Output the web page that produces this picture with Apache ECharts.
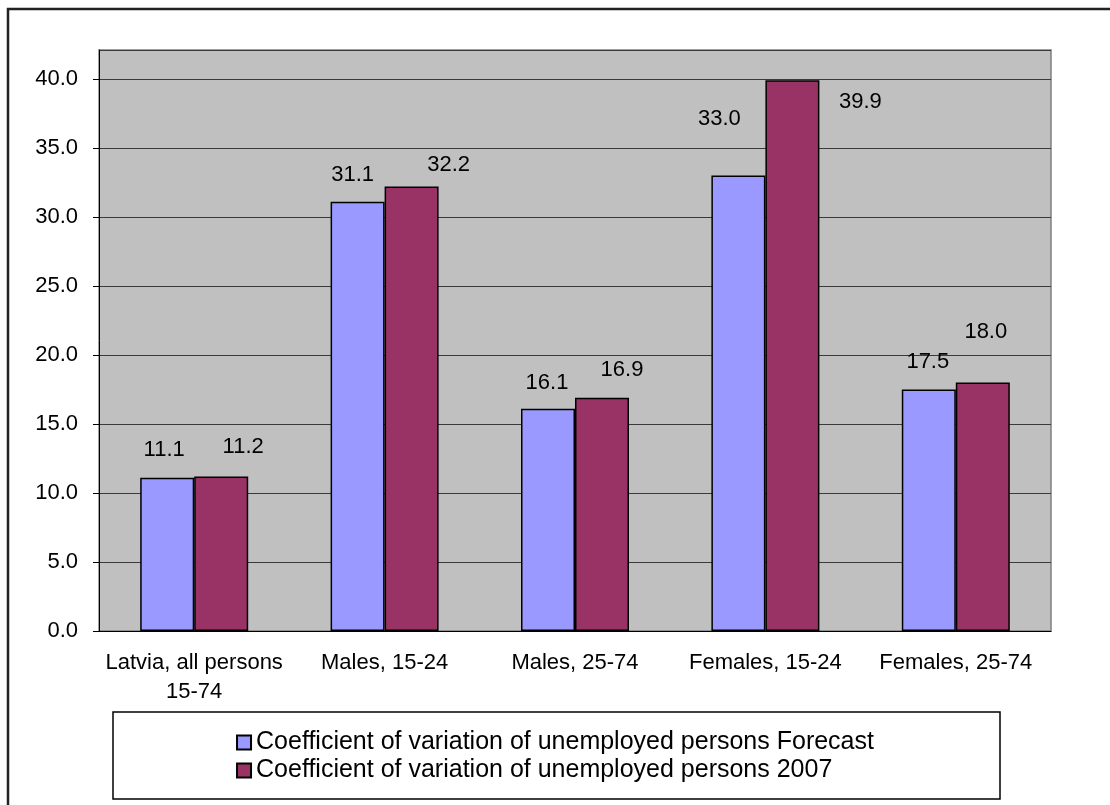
<!DOCTYPE html>
<html>
<head>
<meta charset="utf-8">
<script src="https://cdn.jsdelivr.net/npm/echarts@6/dist/echarts.min.js"></script>
<style>
  html, body { margin: 0; padding: 0; background: #fff; }
  #chart { width: 1110px; height: 805px; }
</style>
</head>
<body>
<div id="chart"></div>
<script>
const categories = ['Latvia, all persons\n15-74', 'Males, 15-24', 'Males, 25-74', 'Females, 15-24', 'Females, 25-74']
const forecastValues = [11.1, 31.1, 16.1, 33.0, 17.5]
const values2007 = [11.2, 32.2, 16.9, 39.9, 18.0]
const seriesNames = [
  'Coefficient of variation of unemployed persons Forecast',
  'Coefficient of variation of unemployed persons 2007'
]

// hand-placed data labels in the original (px offsets from bar top)
const forecastLabelShift = [[-3, -17], [-5, -16], [-1, -15], [-19, -46], [-1, -17]]
const label2007Shift = [[22, -18], [37, -11], [20, -17], [68, 33], [3, -40]]

const font = 'Liberation Sans, Arial, sans-serif'

function withLabels(values, shifts) {
  return values.map((v, i) => ({
    value: v,
    label: { offset: shifts[i] }
  }))
}

const chart = echarts.init(document.getElementById('chart'))

chart.setOption({
  backgroundColor: '#fff',
  animation: false,
  textStyle: { fontFamily: font, color: '#000' },
  graphic: [{
    type: 'rect',
    shape: { x: 8, y: 9, width: 1200, height: 900 },
    style: { fill: 'none', stroke: '#222', lineWidth: 2.5 },
    z: 0
  }, {
    type: 'rect',
    shape: { x: 113, y: 712, width: 887, height: 87 },
    style: { fill: '#fff', stroke: '#000', lineWidth: 1.5 },
    z: 0
  }],
  grid: {
    left: 99,
    top: 50,
    right: 59,
    bottom: 174,
    show: true,
    backgroundColor: '#c0c0c0',
    borderColor: '#808080',
    borderWidth: 1.5
  },
  legend: {
    orient: 'vertical',
    left: 'center',
    top: 725,
    icon: 'rect',
    itemWidth: 14,
    itemHeight: 14,
    itemGap: 3,
    z: 10,
    textStyle: { fontFamily: font, fontSize: 25, color: '#000' },
    data: seriesNames
  },
  xAxis: {
    type: 'category',
    data: categories,
    axisLine: { lineStyle: { color: '#000', width: 1 } },
    axisTick: { length: 6, lineStyle: { color: '#000' } },
    axisLabel: {
      fontFamily: font,
      fontSize: 22,
      color: '#000',
      lineHeight: 29,
      margin: 17,
      interval: 0
    }
  },
  yAxis: {
    type: 'value',
    min: 0,
    max: 42.1,
    interval: 5,
    axisLine: { show: true, lineStyle: { color: '#000', width: 1 } },
    axisTick: { show: true, length: 6, lineStyle: { color: '#000' } },
    splitLine: { lineStyle: { color: '#3a3a3a', width: 1 } },
    axisLabel: {
      fontFamily: font,
      fontSize: 22,
      color: '#000',
      margin: 21,
      showMaxLabel: false,
      formatter: v => (v % 5 === 0 ? v.toFixed(1) : '')
    }
  },
  series: [{
    name: seriesNames[0],
    type: 'bar',
    barWidth: 54,
    barGap: '0%',
    itemStyle: { color: '#9999ff', borderColor: '#000', borderWidth: 1.5 },
    label: {
      show: true,
      position: 'top',
      distance: 0,
      fontFamily: font,
      fontSize: 22,
      color: '#000',
      formatter: p => p.value.toFixed(1)
    },
    data: withLabels(forecastValues, forecastLabelShift)
  }, {
    name: seriesNames[1],
    type: 'bar',
    barWidth: 54,
    barGap: '0%',
    itemStyle: { color: '#993366', borderColor: '#000', borderWidth: 1.5 },
    label: {
      show: true,
      position: 'top',
      distance: 0,
      fontFamily: font,
      fontSize: 22,
      color: '#000',
      formatter: p => p.value.toFixed(1)
    },
    data: withLabels(values2007, label2007Shift)
  }]
})
</script>
</body>
</html>
